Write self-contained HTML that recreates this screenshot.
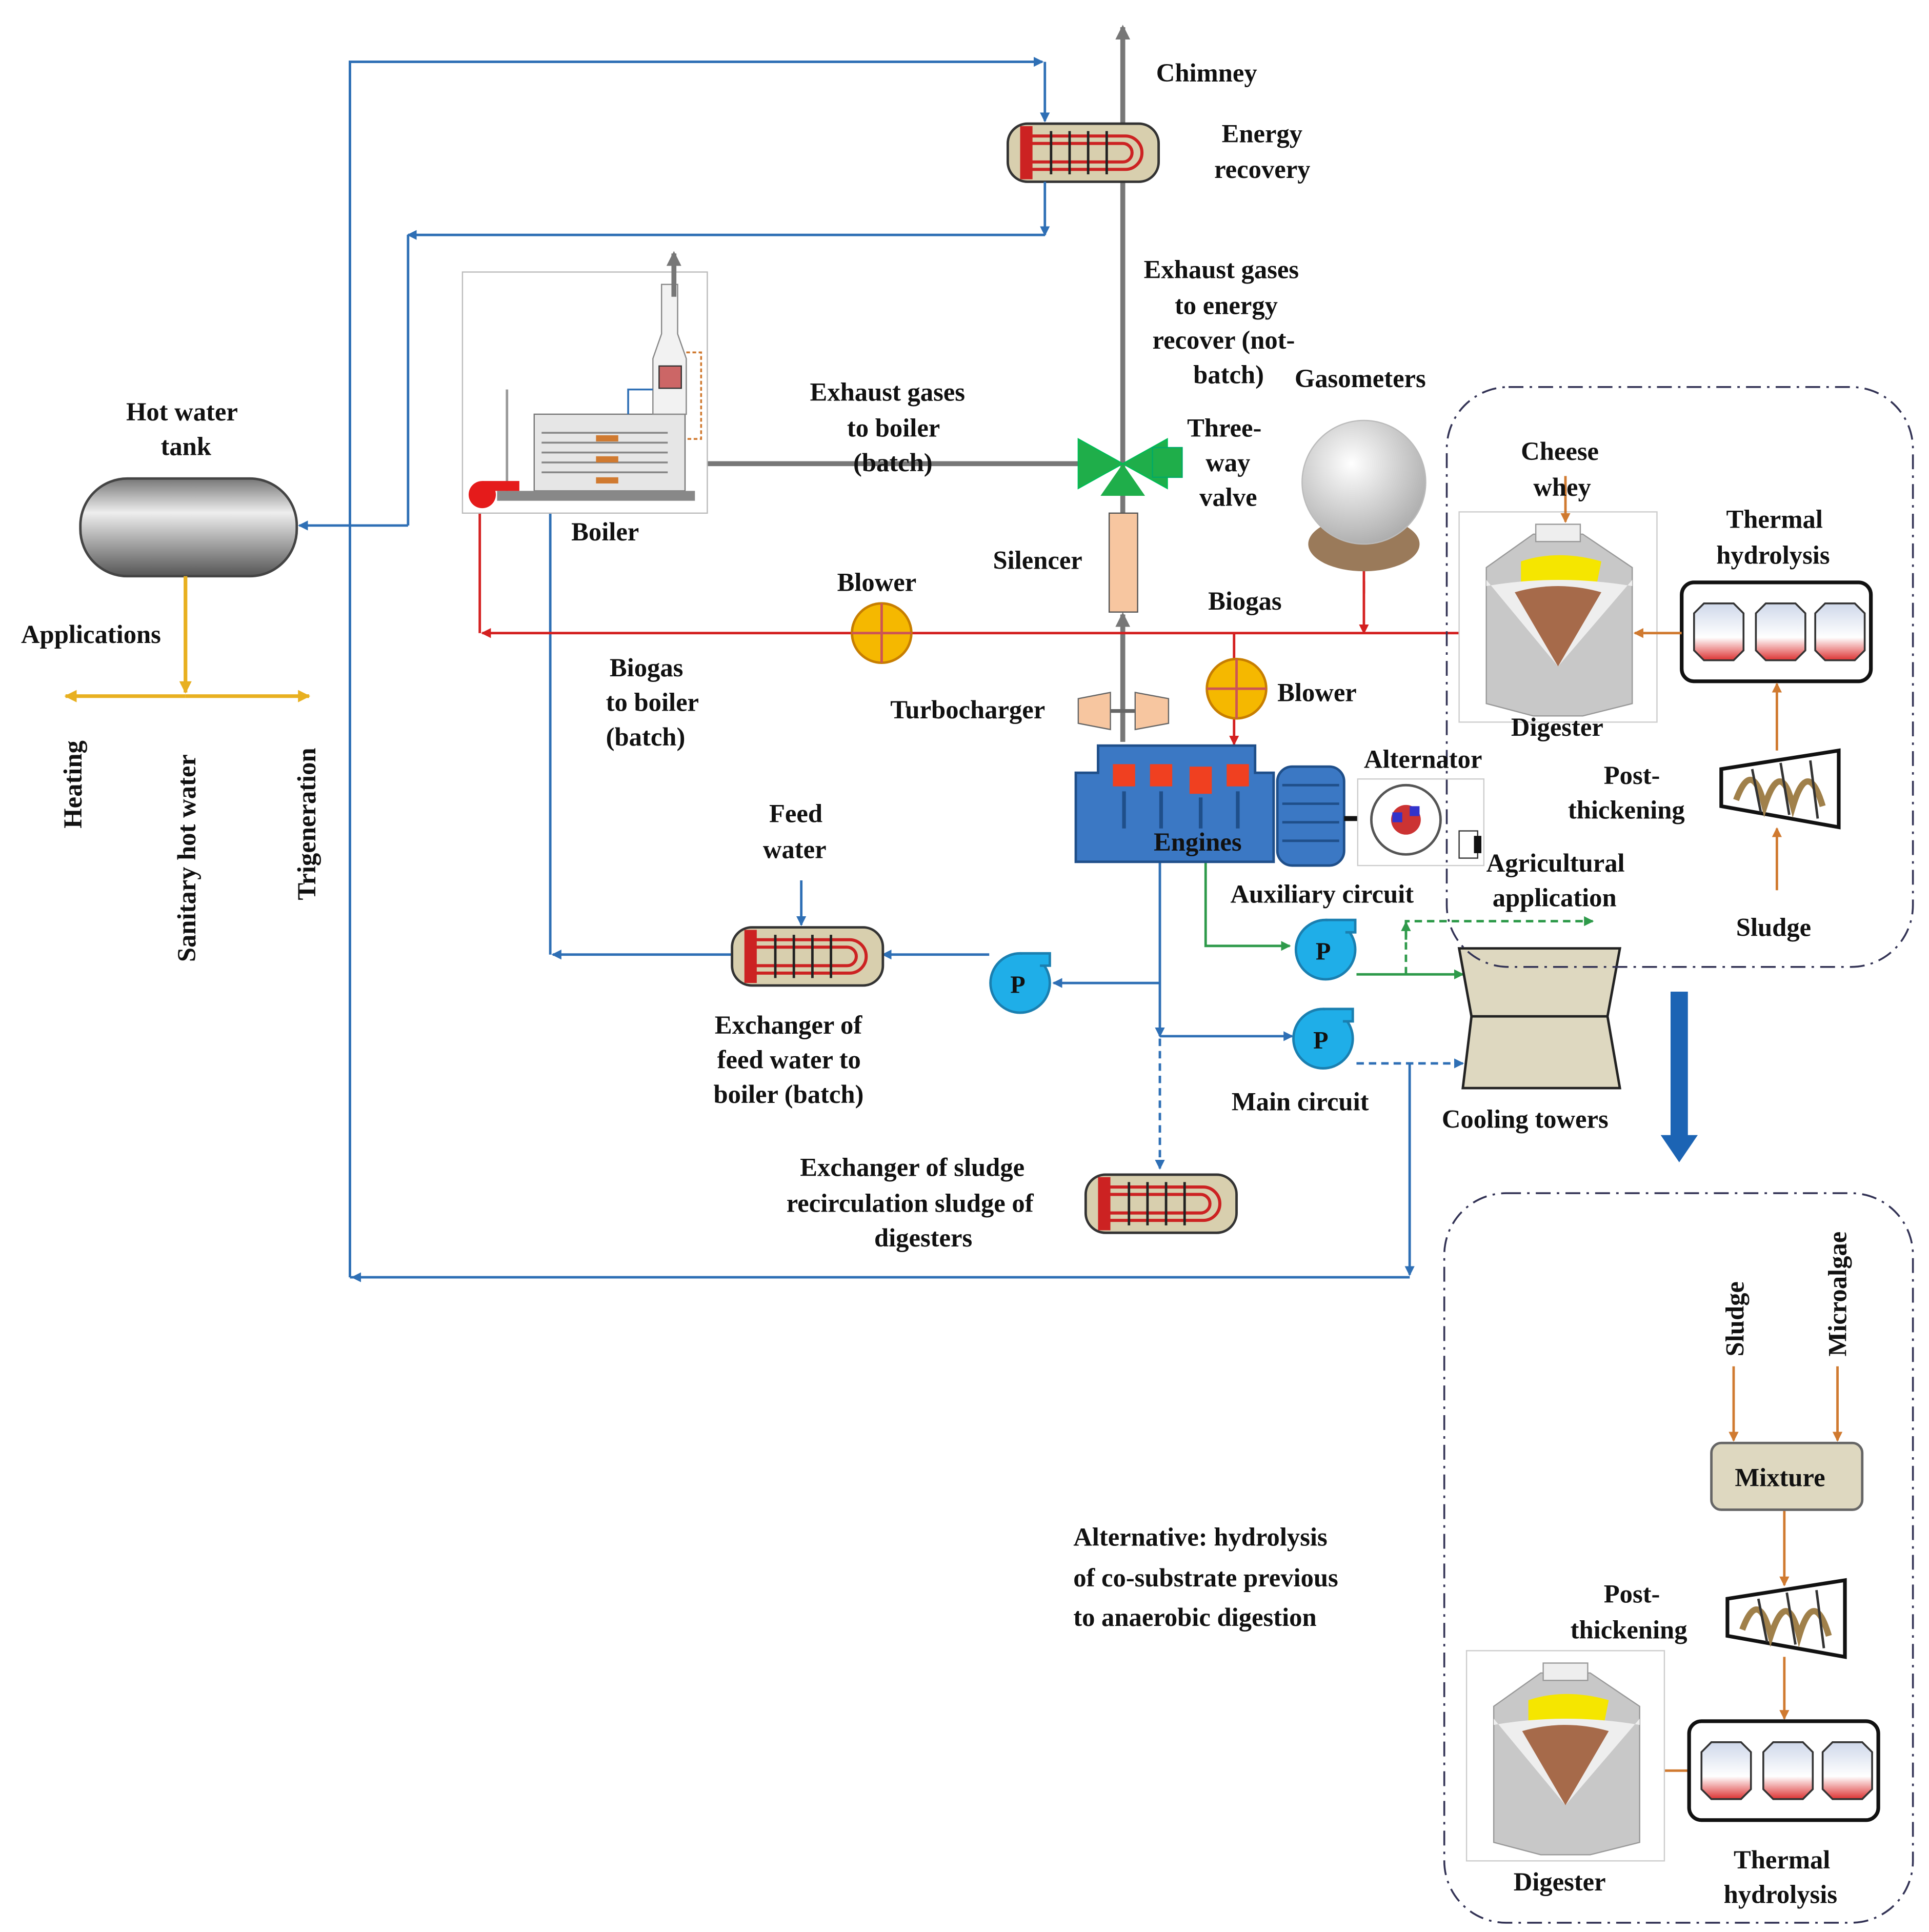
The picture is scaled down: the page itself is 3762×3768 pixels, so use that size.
<!DOCTYPE html>
<html><head><meta charset="utf-8"><style>
html,body{margin:0;padding:0;background:#fff;}
svg{display:block;}
text{font-family:"Liberation Serif",serif;font-weight:bold;font-size:21px;fill:#111;}
</style></head><body>
<svg width="3762" height="3768" viewBox="0 0 1560 1562.5" preserveAspectRatio="none" xmlns="http://www.w3.org/2000/svg">
<defs>
<marker id="ab" markerWidth="8" markerHeight="8" refX="7" refY="4" orient="auto" markerUnits="userSpaceOnUse"><path d="M0,0 L8,4 L0,8 z" fill="#2e6fb5"/></marker>
<marker id="ar" markerWidth="8" markerHeight="8" refX="7" refY="4" orient="auto" markerUnits="userSpaceOnUse"><path d="M0,0 L8,4 L0,8 z" fill="#d42020"/></marker>
<marker id="ag" markerWidth="8" markerHeight="8" refX="7" refY="4" orient="auto" markerUnits="userSpaceOnUse"><path d="M0,0 L8,4 L0,8 z" fill="#2e9a4a"/></marker>
<marker id="ao" markerWidth="8" markerHeight="8" refX="7" refY="4" orient="auto" markerUnits="userSpaceOnUse"><path d="M0,0 L8,4 L0,8 z" fill="#d07a30"/></marker>
<marker id="ay" markerWidth="10" markerHeight="10" refX="9" refY="5" orient="auto" markerUnits="userSpaceOnUse"><path d="M0,0 L10,5 L0,10 z" fill="#e8b020"/></marker>
<marker id="agr" markerWidth="12" markerHeight="12" refX="10" refY="6" orient="auto" markerUnits="userSpaceOnUse"><path d="M0,0 L12,6 L0,12 z" fill="#777"/></marker>
<linearGradient id="tank" x1="0" y1="0" x2="0" y2="1"><stop offset="0" stop-color="#777"/><stop offset=".35" stop-color="#eee"/><stop offset="1" stop-color="#555"/></linearGradient>
<radialGradient id="sph" cx=".4" cy=".35" r=".7"><stop offset="0" stop-color="#fff"/><stop offset="1" stop-color="#aaa"/></radialGradient>
<linearGradient id="th" x1="0" y1="0" x2="0" y2="1"><stop offset="0" stop-color="#cfd8ea"/><stop offset=".6" stop-color="#fff"/><stop offset="1" stop-color="#d33"/></linearGradient>
<g id="hx"><rect x="0" y="0" width="122" height="47" rx="16" fill="#d8cfae" stroke="#333" stroke-width="2"/><path d="M10,2 h10 v43 h-10 z" fill="#c22"/><g stroke="#c22" stroke-width="2.5" fill="none"><path d="M15,10 H95 a13,13 0 0 1 0,27 H15"/><path d="M15,16 H93 a7,7 0 0 1 0,15 H15"/></g><g stroke="#222" stroke-width="2"><line x1="35" y1="6" x2="35" y2="41"/><line x1="50" y1="6" x2="50" y2="41"/><line x1="65" y1="6" x2="65" y2="41"/><line x1="80" y1="6" x2="80" y2="41"/></g></g>
<g id="pump"><circle cx="0" cy="0" r="24" fill="#1faee8" stroke="#1a7fb0" stroke-width="2"/><path d="M0,-24 h24 v10 h-8" fill="#1faee8" stroke="#1a7fb0" stroke-width="2"/><text x="-8" y="8" style="font-size:20px">P</text></g>
<g id="blower"><circle cx="0" cy="0" r="24" fill="#f5b800" stroke="#c77e00" stroke-width="2"/><line x1="-24" y1="0" x2="24" y2="0" stroke="#c55" stroke-width="2"/><line x1="0" y1="-24" x2="0" y2="24" stroke="#c55" stroke-width="2"/></g>
<g id="dig"><rect x="0" y="0" width="160" height="170" fill="#fff" stroke="#ccc"/><path d="M22,45 L60,18 H100 L140,45 V155 L100,165 H60 L22,155 Z" fill="#c8c8c8" stroke="#999"/><rect x="62" y="10" width="36" height="14" fill="#eee" stroke="#999"/><path d="M50,40 Q80,30 115,40 L110,65 L50,65 Z" fill="#f5e600"/><path d="M22,55 L80,125 L140,55 L140,60 Q80,50 22,60 Z" fill="#eee"/><path d="M45,65 Q80,55 115,65 L80,125 Z" fill="#a66a4a"/></g>
<g id="thb"><rect x="0" y="0" width="153" height="80" rx="10" fill="#fff" stroke="#111" stroke-width="3"/><g stroke="#333" stroke-width="1.5"><path d="M10,25 l8,-8 h24 l8,8 v30 l-8,8 h-24 l-8,-8 z" fill="url(#th)"/><path d="M60,25 l8,-8 h24 l8,8 v30 l-8,8 h-24 l-8,-8 z" fill="url(#th)"/><path d="M108,25 l8,-8 h24 l8,8 v30 l-8,8 h-24 l-8,-8 z" fill="url(#th)"/></g></g>
<g id="pt"><path d="M0,15 L95,0 V62 L0,45 Z" fill="#fff" stroke="#111" stroke-width="3"/><g stroke="#a0804a" stroke-width="5" fill="none"><path d="M12,40 Q25,5 35,45 Q48,5 58,45 Q70,5 82,45"/></g><g stroke="#333" stroke-width="2"><line x1="25" y1="15" x2="32" y2="50"/><line x1="48" y1="10" x2="55" y2="52"/><line x1="72" y1="8" x2="78" y2="55"/></g></g>
</defs>

<line x1="908" y1="415" x2="908" y2="22" stroke="#777" stroke-width="4" marker-end="url(#agr)"/>
<line x1="908" y1="600" x2="908" y2="497" stroke="#777" stroke-width="4" marker-end="url(#agr)"/>
<line x1="880" y1="375" x2="557" y2="375" stroke="#777" stroke-width="4" marker-end="url(#agr)"/>
<rect x="897" y="415" width="23" height="80" fill="#f7c6a0" stroke="#555"/>
<use href="#hx" x="815" y="100"/>
<g stroke="#2e6fb5" stroke-width="2" fill="none">
<polyline points="283,1033 283,50 843,50" marker-end="url(#ab)"/>
<line x1="845" y1="50" x2="845" y2="98" marker-end="url(#ab)"/>
<line x1="845" y1="147" x2="845" y2="190" marker-end="url(#ab)"/>
<line x1="845" y1="190" x2="330" y2="190" marker-end="url(#ab)"/>
<polyline points="330,190 330,425"/>
<line x1="330" y1="425" x2="242" y2="425" marker-end="url(#ab)"/>
<line x1="283" y1="1033" x2="1140" y2="1033"/>
<line x1="1140" y1="860" x2="1140" y2="1031" marker-end="url(#ab)"/>
<line x1="1140" y1="1033" x2="285" y2="1033" marker-end="url(#ab)"/>
<polyline points="938,695 938,835"/>
<line x1="938" y1="835" x2="938" y2="838" marker-end="url(#ab)"/>
<line x1="938" y1="838" x2="1045" y2="838" marker-end="url(#ab)"/>
<line x1="938" y1="795" x2="852" y2="795" marker-end="url(#ab)"/>
<line x1="800" y1="772" x2="714" y2="772" marker-end="url(#ab)"/>
<line x1="592" y1="772" x2="447" y2="772" marker-end="url(#ab)"/>
<line x1="445" y1="772" x2="445" y2="402" marker-end="url(#ab)"/>
<line x1="648" y1="712" x2="648" y2="748" marker-end="url(#ab)"/>
<line x1="938" y1="840" x2="938" y2="945" stroke-dasharray="6,4" marker-end="url(#ab)"/>
<line x1="1097" y1="860" x2="1183" y2="860" stroke-dasharray="6,4" marker-end="url(#ab)"/>
</g>
<g stroke="#2e9a4a" stroke-width="2" fill="none">
<polyline points="975,695 975,765 1043,765" marker-end="url(#ag)"/>
<line x1="1097" y1="788" x2="1183" y2="788" marker-end="url(#ag)"/>
<polyline points="1137,788 1137,745 1288,745" stroke-dasharray="6,4" marker-end="url(#ag)"/>
<line x1="1137" y1="760" x2="1137" y2="746" marker-end="url(#ag)"/>
</g>
<g stroke="#d42020" stroke-width="2" fill="none">
<line x1="1200" y1="512" x2="390" y2="512" marker-end="url(#ar)"/>
<line x1="388" y1="512" x2="388" y2="402" marker-end="url(#ar)"/>
<line x1="998" y1="512" x2="998" y2="602" marker-end="url(#ar)"/>
<line x1="1103" y1="470" x2="1103" y2="512" marker-end="url(#ar)"/>
<line x1="1103" y1="480" x2="1103" y2="437" marker-end="url(#ar)"/>
</g>
<rect x="65" y="387" width="175" height="79" rx="38" fill="url(#tank)" stroke="#444" stroke-width="2"/>
<line x1="150" y1="466" x2="150" y2="560" stroke="#e8b020" stroke-width="3" marker-end="url(#ay)"/>
<line x1="150" y1="563" x2="250" y2="563" stroke="#e8b020" stroke-width="3" marker-end="url(#ay)"/>
<line x1="150" y1="563" x2="53" y2="563" stroke="#e8b020" stroke-width="3" marker-end="url(#ay)"/>
<rect x="374" y="220" width="198" height="195" fill="#fff" stroke="#bbb"/>
<rect x="432" y="335" width="122" height="62" fill="#e6e6e6" stroke="#777"/>
<g stroke="#888" stroke-width="1.5"><line x1="438" y1="350" x2="540" y2="350"/><line x1="438" y1="358" x2="540" y2="358"/><line x1="438" y1="366" x2="540" y2="366"/><line x1="438" y1="374" x2="540" y2="374"/><line x1="438" y1="382" x2="540" y2="382"/></g>
<g fill="#d07a30"><rect x="482" y="352" width="18" height="5"/><rect x="482" y="369" width="18" height="5"/><rect x="482" y="386" width="18" height="5"/></g>
<rect x="402" y="397" width="160" height="8" fill="#888"/>
<line x1="410" y1="315" x2="410" y2="397" stroke="#999" stroke-width="2"/>
<path d="M535,230 V270 L528,290 V335 H555 V290 L548,270 V230 Z" fill="#f2f2f2" stroke="#888"/>
<rect x="533" y="296" width="18" height="18" fill="#c66" stroke="#333"/>
<line x1="545" y1="240" x2="545" y2="205" stroke="#777" stroke-width="4" marker-end="url(#agr)"/>
<path d="M555,285 h12 v70 h-12" fill="none" stroke="#d07a30" stroke-width="1.5" stroke-dasharray="3,2"/>
<path d="M528,315 h-20 v20" fill="none" stroke="#2e6fb5" stroke-width="1.5"/>
<circle cx="390" cy="400" r="11" fill="#e51b1b"/><rect x="390" y="389" width="30" height="8" fill="#e51b1b"/>
<path d="M872,355 L908,375 L872,395 Z M944,355 L908,375 L944,395 Z" fill="#1fae4a" stroke="#0b5" stroke-width="1"/>
<path d="M890,401 L908,375 L926,401 Z" fill="#1fae4a"/>
<rect x="932" y="362" width="24" height="24" fill="#1fae4a" stroke="#0a6" stroke-width="1"/>
<ellipse cx="1103" cy="440" rx="45" ry="22" fill="#9a7a5a"/>
<circle cx="1103" cy="390" r="50" fill="url(#sph)" stroke="#bbb"/>
<use href="#blower" x="713" y="512"/>
<use href="#blower" x="1000" y="557"/>
<path d="M872,565 L898,560 V590 L872,585 Z M945,565 L918,560 V590 L945,585 Z" fill="#f7c6a0" stroke="#666"/>
<line x1="898" y1="575" x2="918" y2="575" stroke="#666" stroke-width="3"/>
<path d="M870,625 H888 V603 H1015 V625 H1030 V697 H870 Z" fill="#3b78c4" stroke="#1f4f8a" stroke-width="2"/>
<g fill="#f04020"><rect x="900" y="618" width="18" height="18"/><rect x="930" y="618" width="18" height="18"/><rect x="962" y="620" width="18" height="22"/><rect x="992" y="618" width="18" height="18"/></g>
<g stroke="#1f4f8a" stroke-width="3"><line x1="909" y1="640" x2="909" y2="670"/><line x1="939" y1="640" x2="939" y2="670"/><line x1="971" y1="645" x2="971" y2="670"/><line x1="1001" y1="640" x2="1001" y2="670"/></g>
<rect x="1033" y="620" width="54" height="80" rx="12" fill="#3b78c4" stroke="#1f4f8a" stroke-width="2"/>
<g stroke="#1f4f8a" stroke-width="2"><line x1="1037" y1="635" x2="1083" y2="635"/><line x1="1037" y1="650" x2="1083" y2="650"/><line x1="1037" y1="665" x2="1083" y2="665"/><line x1="1037" y1="680" x2="1083" y2="680"/></g>
<line x1="1087" y1="662" x2="1105" y2="662" stroke="#111" stroke-width="4"/>
<rect x="1098" y="630" width="102" height="70" fill="#fff" stroke="#ccc"/>
<circle cx="1137" cy="663" r="28" fill="#fff" stroke="#555" stroke-width="2"/>
<circle cx="1137" cy="663" r="12" fill="#c33"/><rect x="1126" y="657" width="8" height="8" fill="#33c"/><rect x="1140" y="652" width="8" height="8" fill="#33c"/>
<rect x="1180" y="672" width="15" height="22" fill="#fff" stroke="#333"/><rect x="1192" y="676" width="6" height="14" fill="#111"/>
<use href="#pump" x="1072" y="768"/>
<use href="#pump" x="1070" y="840"/>
<use href="#pump" x="825" y="795"/>
<use href="#hx" x="592" y="750"/>
<use href="#hx" x="878" y="950"/>
<path d="M1180,767 H1310 L1300,822 H1190 Z" fill="#ded8c0" stroke="#222" stroke-width="2"/>
<path d="M1190,822 H1300 L1310,880 H1183 Z" fill="#ded8c0" stroke="#222" stroke-width="2"/>
<rect x="1170" y="313" width="377" height="469" rx="50" fill="none" stroke="#335" stroke-width="1.5" stroke-dasharray="12,5,2,5"/>
<rect x="1168" y="965" width="379" height="590" rx="50" fill="none" stroke="#335" stroke-width="1.5" stroke-dasharray="12,5,2,5"/>
<rect x="1351" y="802" width="14" height="118" fill="#1c64b4"/>
<path d="M1343,918 H1373 L1358,940 Z" fill="#1c64b4"/>
<use href="#dig" x="1180" y="414"/>
<use href="#thb" x="1360" y="471"/>
<use href="#pt" x="1392" y="607"/>
<g stroke="#d07a30" stroke-width="2" fill="none">
<line x1="1266" y1="385" x2="1266" y2="422" marker-end="url(#ao)"/>
<line x1="1360" y1="512" x2="1322" y2="512" marker-end="url(#ao)"/>
<line x1="1437" y1="607" x2="1437" y2="553" marker-end="url(#ao)"/>
<line x1="1437" y1="720" x2="1437" y2="670" marker-end="url(#ao)"/>
<line x1="1402" y1="1105" x2="1402" y2="1165" marker-end="url(#ao)"/>
<line x1="1486" y1="1105" x2="1486" y2="1165" marker-end="url(#ao)"/>
<line x1="1443" y1="1222" x2="1443" y2="1282" marker-end="url(#ao)"/>
<line x1="1443" y1="1340" x2="1443" y2="1390" marker-end="url(#ao)"/>
<line x1="1366" y1="1432" x2="1328" y2="1432" marker-end="url(#ao)"/>
</g>
<rect x="1384" y="1167" width="122" height="54" rx="8" fill="#ded8c0" stroke="#666" stroke-width="2"/>
<use href="#pt" x="1397" y="1278"/>
<use href="#thb" x="1366" y="1392"/>
<use href="#dig" x="1186" y="1335"/>

<text x="935" y="66">Chimney</text>
<text x="988" y="115">Energy</text><text x="982" y="144">recovery</text>
<text x="925" y="225">Exhaust gases</text><text x="950" y="254">to energy</text><text x="932" y="282">recover (not-</text><text x="965" y="310">batch)</text>
<text x="1047" y="313">Gasometers</text>
<text x="655" y="324">Exhaust gases</text><text x="685" y="353">to boiler</text><text x="690" y="381">(batch)</text>
<text x="960" y="353">Three-</text><text x="975" y="381">way</text><text x="970" y="409">valve</text>
<text x="102" y="340">Hot water</text><text x="130" y="368">tank</text>
<text x="462" y="437">Boiler</text>
<text x="1230" y="372">Cheese</text><text x="1240" y="401">whey</text>
<text x="1396" y="427">Thermal</text><text x="1388" y="456">hydrolysis</text>
<text x="803" y="460">Silencer</text>
<text x="677" y="478">Blower</text>
<text x="977" y="493">Biogas</text>
<text x="17" y="520">Applications</text>
<text x="493" y="547">Biogas</text><text x="490" y="575">to boiler</text><text x="490" y="603">(batch)</text>
<text x="1033" y="567">Blower</text>
<text x="720" y="581">Turbocharger</text>
<text x="1222" y="595">Digester</text>
<text x="1103" y="621">Alternator</text>
<text x="1297" y="634">Post-</text><text x="1268" y="662">thickening</text>
<text x="622" y="665">Feed</text><text x="617" y="694">water</text>
<text x="933" y="688">Engines</text>
<text x="1202" y="705">Agricultural</text><text x="1207" y="733">application</text>
<text x="995" y="730">Auxiliary  circuit</text>
<text x="1404" y="757">Sludge</text>
<text x="578" y="836">Exchanger of</text><text x="580" y="864">feed water to</text><text x="577" y="892">boiler (batch)</text>
<text x="996" y="898">Main circuit</text>
<text x="1166" y="912">Cooling towers</text>
<text x="647" y="951">Exchanger of sludge</text><text x="636" y="980">recirculation  sludge of</text><text x="707" y="1008">digesters</text>
<text x="868" y="1250">Alternative:  hydrolysis</text><text x="868" y="1283">of co-substrate previous</text><text x="868" y="1315">to anaerobic digestion</text>
<text x="1403" y="1202">Mixture</text>
<text x="1297" y="1296">Post-</text><text x="1270" y="1325">thickening</text>
<text x="1224" y="1529">Digester</text>
<text x="1402" y="1511">Thermal</text><text x="1394" y="1539">hydrolysis</text>
<text transform="translate(66,670) rotate(-90)">Heating</text>
<text transform="translate(158,778) rotate(-90)">Sanitary hot water</text>
<text transform="translate(255,728) rotate(-90)">Trigeneration</text>
<text transform="translate(1410,1097) rotate(-90)">Sludge</text>
<text transform="translate(1493,1097) rotate(-90)">Microalgae</text>
</svg>
</body></html>
